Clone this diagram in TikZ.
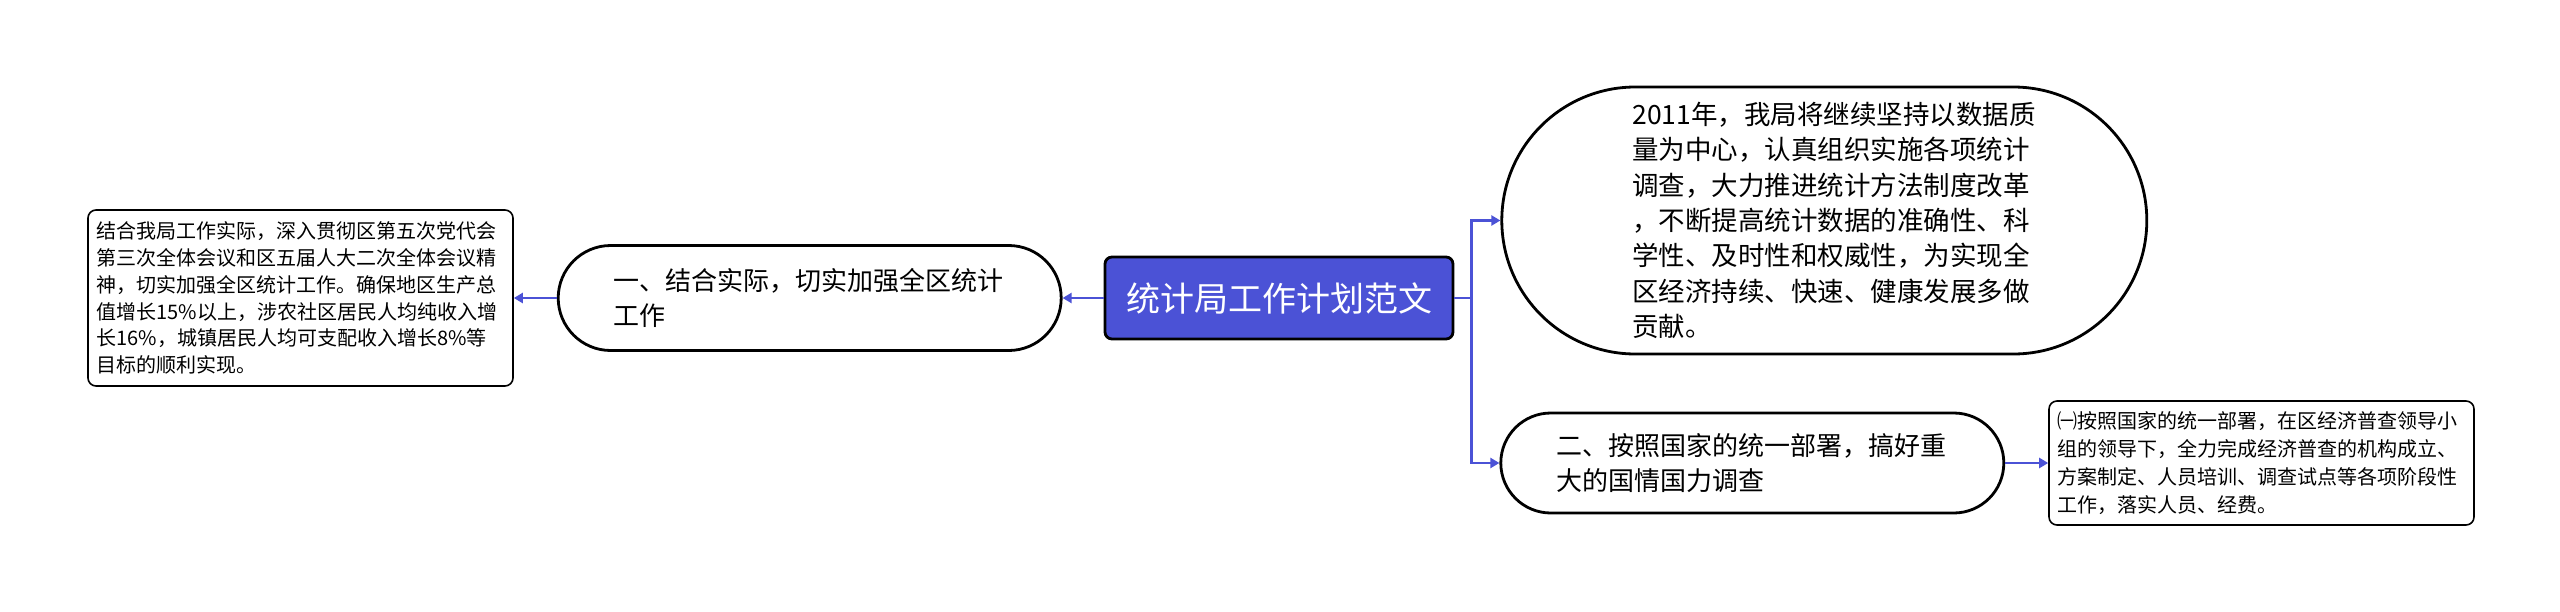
\documentclass[tikz,border=0pt]{standalone}
\usepackage{fontspec}
\setmainfont{Noto Sans CJK SC}
\usepackage{xcolor}
\usepackage{tikz}
\usetikzlibrary{arrows.meta, positioning}
\definecolor{mapblue}{RGB}{75,82,214}
\tikzset{
    root/.style={
        rectangle, draw=black, fill=mapblue, text=white,
        minimum width=174pt, minimum height=41pt, inner sep=0pt,
        rounded corners=3.5pt, font=\fontsize{17pt}{20pt}\selectfont, line width=1.4pt,
    },
    topic/.style={
        rectangle, draw=black, fill=white,
        align=left, text width=196pt, inner sep=0pt,
        font=\fontsize{13pt}{17.5pt}\selectfont, line width=1.4pt,
    },
    detail/.style={
        rectangle, draw=black, fill=white,
        minimum width=212.5pt, align=left, text width=204pt, inner sep=0pt,
        rounded corners=4pt, font=\fontsize{10pt}{13.4pt}\selectfont, line width=0.8pt,
    },
    link/.style={-{Triangle[length=4.5pt, width=5pt]}, line width=1.2pt, draw=mapblue},
}
\begin{document}
\begin{tikzpicture}
    \useasboundingbox (0,0) rectangle (1280pt,-305.5pt);

    \node[root] (root) at (639.5pt,-149pt) {统计局工作计划范文};

    \node[topic, minimum width=251.5pt, minimum height=52.5pt, rounded corners=26.25pt,
        left=20.5pt of root] (part1) {一、结合实际，切实加强全区统计\\工作};
    \node[detail, minimum height=88pt, left=21.5pt of part1] (part1txt) {结合我局工作实际，深入贯彻区第五次党代会\\第三次全体会议和区五届人大二次全体会议精\\神，切实加强全区统计工作。确保地区生产总\\值增长15\%以上，涉农社区居民人均纯收入增\\长16\%，城镇居民人均可支配收入增长8\%等\\目标的顺利实现。};

    \coordinate[right=8.5pt of root.east] (fork);

    \node[topic, minimum width=322.5pt, minimum height=133.5pt, rounded corners=66.75pt,
        text width=192pt, font=\fontsize{13.25pt}{17.7pt}\selectfont,
        right=23pt of root, yshift=38.75pt] (plan2011) {2011年，我局将继续坚持以数据质\\量为中心，认真组织实施各项统计\\调查，大力推进统计方法制度改革\\，不断提高统计数据的准确性、科\\学性、及时性和权威性，为实现全\\区经济持续、快速、健康发展多做\\贡献。};

    \node[topic, minimum width=251.5pt, minimum height=50pt, rounded corners=25pt,
        right=22.5pt of root, yshift=-82.5pt] (part2) {二、按照国家的统一部署，搞好重\\大的国情国力调查};
    \node[detail, minimum height=62pt, font=\fontsize{10pt}{14pt}\selectfont,
        right=21.5pt of part2] (part2txt) {㈠按照国家的统一部署，在区经济普查领导小\\组的领导下，全力完成经济普查的机构成立、\\方案制定、人员培训、调查试点等各项阶段性\\工作，落实人员、经费。};

    \draw[link] (root) -- (part1);
    \draw[link] (part1) -- (part1txt);
    \draw[link] (root.east) -- (fork) |- (plan2011);
    \draw[link] (root.east) -- (fork) |- (part2);
    \draw[link] (part2) -- (part2txt);

\end{tikzpicture}
\end{document}
